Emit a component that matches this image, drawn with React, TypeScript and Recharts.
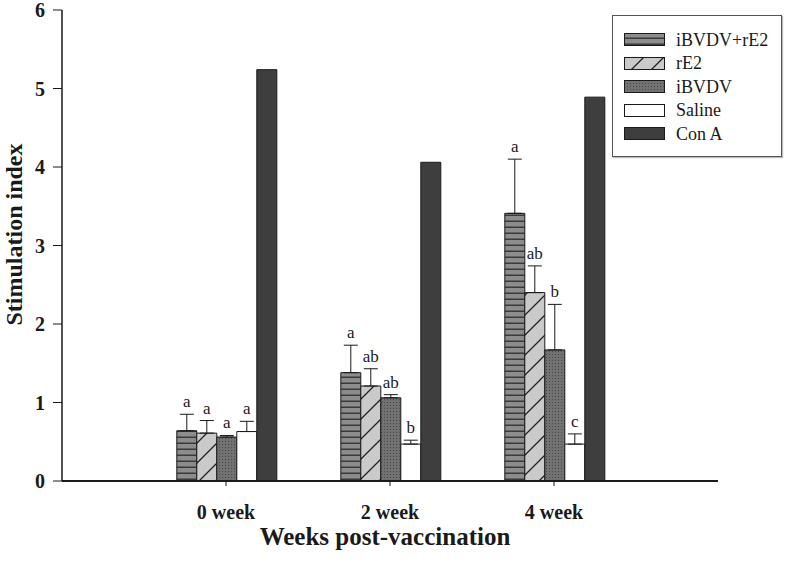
import React from "react";
import { Bar, BarChart, ErrorBar, LabelList, Legend, XAxis, YAxis, Label } from "recharts";

const weeks = ["0 week", "2 week", "4 week"];

const comboValues = [0.64, 1.38, 3.41];
const comboErrors = [0.21, 0.35, 0.69];
const comboLetters = ["a", "a", "a"];

const rE2Values = [0.61, 1.21, 2.4];
const rE2Errors = [0.16, 0.22, 0.34];
const rE2Letters = ["a", "ab", "ab"];

const iBVDVValues = [0.56, 1.06, 1.67];
const iBVDVErrors = [0.02, 0.04, 0.58];
const iBVDVLetters = ["a", "ab", "b"];

const salineValues = [0.63, 0.47, 0.47];
const salineErrors = [0.13, 0.05, 0.13];
const salineLetters = ["a", "b", "c"];

const conAValues = [5.24, 4.06, 4.89];

const yTicks = [0, 1, 2, 3, 4, 5, 6];

const FONT = '"Liberation Serif", "Times New Roman", serif';
const INK = "#1a1a1a";

const series = [
  { key: "combo", name: "iBVDV+rE2", fill: "url(#hstripe)", values: comboValues, errors: comboErrors, letters: comboLetters },
  { key: "rE2", name: "rE2", fill: "url(#diag)", values: rE2Values, errors: rE2Errors, letters: rE2Letters },
  { key: "iBVDV", name: "iBVDV", fill: "url(#dots)", values: iBVDVValues, errors: iBVDVErrors, letters: iBVDVLetters },
  { key: "saline", name: "Saline", fill: "#ffffff", values: salineValues, errors: salineErrors, letters: salineLetters },
  { key: "conA", name: "Con A", fill: "#3e3e3e", values: conAValues, errors: null, letters: null },
];

const data = weeks.map((week, i) => {
  const row: any = { week };
  series.forEach((s) => {
    row[s.key] = s.values[i];
    if (s.errors) row[s.key + "Err"] = [0, s.errors[i]];
    if (s.letters) row[s.key + "Letter"] = s.letters[i];
  });
  return row;
});

// letter sits just above the error bar cap; scale comes from the bar's own height
const makeLetter = (values: number[], errors: number[]) => (props: any) => {
  const vb = props.viewBox ?? props;
  const i = props.index ?? 0;
  const h = Math.abs(vb.height);
  const top = Math.min(vb.y, vb.y + vb.height);
  const capY = top - errors[i] * (h / values[i]);
  return (
    <text x={vb.x + vb.width / 2} y={capY - 7} textAnchor="middle" fontFamily={FONT} fontSize={17} fill={INK}>
      {props.value}
    </text>
  );
};

const Swatch = ({ fill }: { fill: string }) => (
  <svg width={41} height={13} style={{ display: "block" }}>
    <rect x={0.5} y={0.5} width={40} height={12} fill={fill} stroke={INK} strokeWidth={1} />
  </svg>
);

const renderLegend = () => (
  <div
    style={{
      boxSizing: "border-box",
      width: 170,
      height: 142,
      border: "1px solid #555",
      boxShadow: "1px 1px 1px #bbb",
      background: "#fff",
      paddingTop: 12,
      fontFamily: FONT,
      fontSize: 18,
      color: INK,
    }}
  >
    {series.map((s) => (
      <div key={s.key} style={{ display: "flex", alignItems: "center", height: 23.5, paddingLeft: 11 }}>
        <Swatch fill={s.fill} />
        <span style={{ marginLeft: 11, lineHeight: "18px" }}>{s.name}</span>
      </div>
    ))}
  </div>
);

export default function App() {
  return (
    <div style={{ position: "absolute", left: 0, top: 0, background: "#fff" }}>
      <BarChart
        width={787}
        height={561}
        data={data}
        margin={{ top: 10, right: 69, left: 0, bottom: 0 }}
        barGap={0}
        barCategoryGap="20%"
      >
        <defs>
          <pattern id="hstripe" patternUnits="userSpaceOnUse" width={8} height={6}>
            <rect width={8} height={6} fill="#8c8c8c" />
            <rect y={4.5} width={8} height={1.5} fill="#3a3a3a" />
          </pattern>
          <pattern id="diag" patternUnits="userSpaceOnUse" width={20} height={20}>
            <rect width={20} height={20} fill="#cacaca" />
            <path d="M0,20 L20,0 M-5,5 L5,-5 M15,25 L25,15" stroke="#222" strokeWidth={1.3} />
          </pattern>
          <pattern id="dots" patternUnits="userSpaceOnUse" width={3} height={3}>
            <rect width={3} height={3} fill="#727272" />
            <rect width={1} height={1} fill="#4a4a4a" />
          </pattern>
        </defs>
        <XAxis
          dataKey="week"
          padding={{ left: 82, right: 82 }}
          height={80}
          tickSize={5}
          tickMargin={19}
          axisLine={{ stroke: INK, strokeWidth: 2 }}
          tickLine={{ stroke: INK }}
          tick={{ fill: INK, fontSize: 20, fontWeight: "bold", fontFamily: FONT }}
        >
          <Label
            content={({ viewBox }: any) => (
              <text
                x={viewBox.x + viewBox.width / 2 - 5}
                y={545}
                textAnchor="middle"
                fontFamily={FONT}
                fontWeight="bold"
                fontSize={25}
                fill={INK}
              >
                Weeks post-vaccination
              </text>
            )}
          />
        </XAxis>
        <YAxis
          domain={[0, 6]}
          ticks={yTicks}
          interval={0}
          width={62}
          tickSize={9}
          tickMargin={8}
          axisLine={{ stroke: INK, strokeWidth: 1.5 }}
          tickLine={{ stroke: INK }}
          tick={{ fill: INK, fontSize: 20, fontWeight: "bold", fontFamily: FONT }}
        >
          <Label
            content={({ viewBox }: any) => {
              const cy = viewBox.y + viewBox.height / 2 - 11;
              return (
                <text
                  x={22}
                  y={cy}
                  transform={`rotate(-90, 22, ${cy})`}
                  textAnchor="middle"
                  fontFamily={FONT}
                  fontWeight="bold"
                  fontSize={24}
                  fill={INK}
                >
                  Stimulation index
                </text>
              );
            }}
          />
        </YAxis>
        <Legend
          layout="vertical"
          align="center"
          verticalAlign="middle"
          content={renderLegend}
          wrapperStyle={{ left: 612, top: 15, width: 170, height: 142 }}
        />
        {series.map((s) => (
          <Bar
            key={s.key}
            dataKey={s.key}
            name={s.name}
            fill={s.fill}
            stroke={INK}
            strokeWidth={1}
            isAnimationActive={false}
          >
            {s.errors && (
              <ErrorBar dataKey={s.key + "Err"} width={7} stroke={INK} strokeWidth={1} direction="y" />
            )}
            {s.letters && s.errors && (
              <LabelList dataKey={s.key + "Letter"} content={makeLetter(s.values, s.errors)} />
            )}
          </Bar>
        ))}
      </BarChart>
    </div>
  );
}
